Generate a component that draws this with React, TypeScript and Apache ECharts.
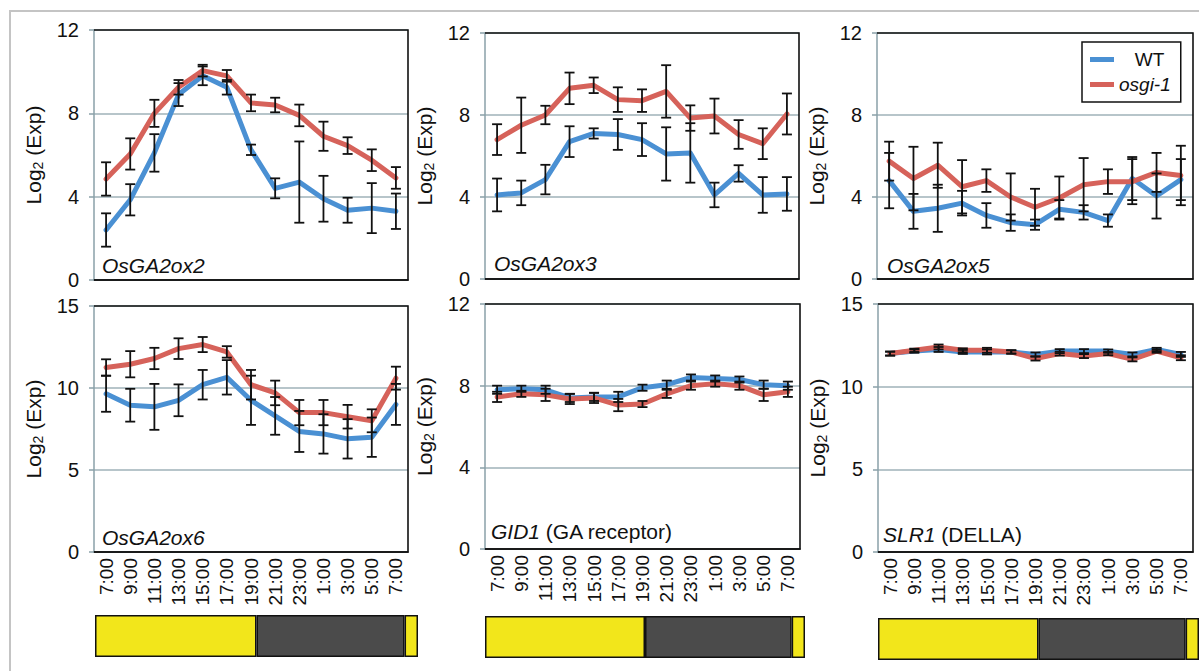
import { useEffect, useRef } from 'react';
import * as echarts from 'echarts';

// ---------- data ----------
const times = ['7:00', '9:00', '11:00', '13:00', '15:00', '17:00', '19:00', '21:00', '23:00', '1:00', '3:00', '5:00', '7:00'];
const genes = ['OsGA2ox2', 'OsGA2ox3', 'OsGA2ox5', 'OsGA2ox6', 'GID1', 'SLR1'];
const geneNotes = ['', '', '', '', '(GA receptor)', '(DELLA)'];
const yMaxes = [12, 12, 12, 15, 12, 15];
const ySteps = [4, 4, 4, 5, 4, 5];
const seriesNames = ['WT', 'osgi-1'];

const ga2ox2Wt = [2.4, 3.85, 6.1, 8.9, 9.8, 9.25, 6.25, 4.4, 4.7, 3.9, 3.35, 3.45, 3.3];
const ga2ox2WtErr = [0.8, 0.75, 0.9, 0.55, 0.45, 0.35, 0.25, 0.48, 1.95, 1.1, 0.6, 1.2, 0.85];
const ga2ox2Osgi = [4.85, 6.05, 8.0, 9.25, 10.05, 9.8, 8.5, 8.4, 7.9, 6.9, 6.45, 5.75, 4.9];
const ga2ox2OsgiErr = [0.8, 0.75, 0.65, 0.35, 0.28, 0.28, 0.4, 0.35, 0.52, 0.7, 0.4, 0.52, 0.52];

const ga2ox3Wt = [4.1, 4.2, 4.85, 6.7, 7.1, 7.05, 6.8, 6.1, 6.15, 4.1, 5.15, 4.1, 4.15];
const ga2ox3WtErr = [0.8, 0.6, 0.72, 0.75, 0.25, 0.75, 0.8, 1.3, 1.45, 0.6, 0.4, 0.87, 0.82];
const ga2ox3Osgi = [6.8, 7.5, 8.0, 9.3, 9.45, 8.75, 8.7, 9.15, 7.85, 7.95, 7.05, 6.6, 8.05];
const ga2ox3OsgiErr = [0.75, 1.35, 0.45, 0.77, 0.38, 0.6, 0.55, 1.28, 0.62, 0.85, 0.7, 0.75, 1.0];

const ga2ox5Wt = [4.8, 3.3, 3.45, 3.7, 3.1, 2.75, 2.65, 3.4, 3.25, 2.85, 4.9, 4.05, 4.85];
const ga2ox5WtErr = [1.35, 0.85, 1.15, 0.6, 0.6, 0.4, 0.25, 0.45, 0.35, 0.3, 1.05, 1.1, 1.0];
const ga2ox5Osgi = [5.75, 4.9, 5.55, 4.5, 4.8, 4.0, 3.5, 3.95, 4.6, 4.75, 4.75, 5.2, 5.05];
const ga2ox5OsgiErr = [0.95, 1.55, 1.1, 1.3, 0.55, 1.15, 0.9, 1.05, 1.3, 0.6, 1.1, 0.95, 1.45];

const ga2ox6Wt = [9.65, 8.95, 8.85, 9.25, 10.2, 10.65, 9.25, 8.3, 7.35, 7.2, 6.9, 7.0, 9.0];
const ga2ox6WtErr = [1.1, 1.0, 1.4, 0.97, 0.9, 1.05, 1.5, 1.15, 1.25, 1.2, 1.2, 1.2, 1.25];
const ga2ox6Osgi = [11.25, 11.45, 11.8, 12.4, 12.65, 12.2, 10.2, 9.7, 8.5, 8.5, 8.25, 8.0, 10.6];
const ga2ox6OsgiErr = [0.5, 0.8, 0.65, 0.63, 0.46, 0.35, 0.9, 0.75, 0.77, 0.77, 0.72, 0.7, 0.7];

const gid1Wt = [7.8, 7.85, 7.8, 7.4, 7.45, 7.45, 7.9, 8.05, 8.4, 8.35, 8.3, 8.05, 8.0];
const gid1WtErr = [0.2, 0.15, 0.2, 0.2, 0.2, 0.25, 0.15, 0.2, 0.15, 0.15, 0.15, 0.2, 0.2];
const gid1Osgi = [7.45, 7.6, 7.55, 7.35, 7.4, 7.05, 7.1, 7.6, 8.0, 8.1, 8.0, 7.55, 7.7];
const gid1OsgiErr = [0.25, 0.15, 0.3, 0.25, 0.25, 0.3, 0.15, 0.2, 0.2, 0.15, 0.2, 0.3, 0.25];

const slr1Wt = [12.0, 12.15, 12.25, 12.1, 12.1, 12.1, 11.95, 12.15, 12.15, 12.15, 11.95, 12.25, 11.95];
const slr1WtErr = [0.12, 0.1, 0.15, 0.12, 0.15, 0.1, 0.12, 0.12, 0.12, 0.1, 0.12, 0.1, 0.15];
const slr1Osgi = [12.0, 12.2, 12.4, 12.2, 12.2, 12.1, 11.7, 12.0, 11.85, 12.0, 11.65, 12.15, 11.75];
const slr1OsgiErr = [0.12, 0.1, 0.15, 0.12, 0.15, 0.1, 0.12, 0.12, 0.12, 0.1, 0.12, 0.1, 0.15];

const wtMeans = [ga2ox2Wt, ga2ox3Wt, ga2ox5Wt, ga2ox6Wt, gid1Wt, slr1Wt];
const wtErrs = [ga2ox2WtErr, ga2ox3WtErr, ga2ox5WtErr, ga2ox6WtErr, gid1WtErr, slr1WtErr];
const osgiMeans = [ga2ox2Osgi, ga2ox3Osgi, ga2ox5Osgi, ga2ox6Osgi, gid1Osgi, slr1Osgi];
const osgiErrs = [ga2ox2OsgiErr, ga2ox3OsgiErr, ga2ox5OsgiErr, ga2ox6OsgiErr, gid1OsgiErr, slr1OsgiErr];

// light / dark period (hours) beneath each column
const photoperiodHours = [12, 11, 1];
const photoperiodPhases = ['light', 'dark', 'light'];

// ---------- layout & style ----------
const FONT = '"Liberation Sans", Arial, Helvetica, sans-serif';
const BLUE = '#4a90d3';
const RED = '#d6625a';
const YELLOW = '#f2e61b';
const DARK = '#4b4b4b';
const GRIDLINE = '#9fb2b8';
const AXISGRAY = '#8aa0a8';

const panelBoxes = [
  { left: 94, top: 30, width: 314, height: 250 },
  { left: 485, top: 33, width: 314, height: 246 },
  { left: 877, top: 33, width: 316, height: 246 },
  { left: 94, top: 306, width: 314, height: 246 },
  { left: 485, top: 304, width: 315, height: 245 },
  { left: 878, top: 304, width: 315, height: 248 },
];
const barBoxes = [
  { left: 95, top: 615, width: 323, height: 42 },
  { left: 485, top: 616, width: 320, height: 42 },
  { left: 878, top: 618, width: 323, height: 42 },
];
const geneLabelPos = [
  [102, 265], [494, 263], [887, 265], [102, 537], [491, 531], [883, 534],
];

function errRender(params: any, api: any) {
  const i = api.value(0);
  const lo = api.coord([i, api.value(1)]);
  const hi = api.coord([i, api.value(2)]);
  const w = 5;
  const st = { stroke: '#111', lineWidth: 1.8 };
  return {
    type: 'group',
    children: [
      { type: 'line', shape: { x1: lo[0], y1: lo[1], x2: hi[0], y2: hi[1] }, style: st },
      { type: 'line', shape: { x1: lo[0] - w, y1: lo[1], x2: lo[0] + w, y2: lo[1] }, style: st },
      { type: 'line', shape: { x1: hi[0] - w, y1: hi[1], x2: hi[0] + w, y2: hi[1] }, style: st },
    ],
  };
}

function buildOption() {
  const grid: any[] = [];
  const xAxis: any[] = [];
  const yAxis: any[] = [];
  const series: any[] = [];
  const graphic: any[] = [];

  panelBoxes.forEach((b, i) => {
    grid.push({ ...b, show: false });
    xAxis.push({
      gridIndex: i,
      type: 'category',
      data: times,
      boundaryGap: true,
      axisLine: { show: true, lineStyle: { color: '#111', width: 1.5 } },
      axisTick: { show: false },
      axisLabel: { show: i >= 3, rotate: 90, interval: 0, fontSize: 19, color: '#111', margin: 6, fontFamily: FONT },
      splitLine: { show: false },
    });
    yAxis.push({
      gridIndex: i,
      type: 'value',
      min: 0,
      max: yMaxes[i],
      interval: ySteps[i],
      axisLine: { show: true, lineStyle: { color: AXISGRAY, width: 1.5 } },
      axisTick: { show: true, length: 5, lineStyle: { color: AXISGRAY, width: 1.5 } },
      splitLine: { show: true, lineStyle: { color: GRIDLINE, width: 1.5 } },
      axisLabel: { fontSize: 20, color: '#111', margin: 15, fontFamily: FONT },
      name: '{a|Log}{s|2}{a| (Exp)}',
      nameLocation: 'middle',
      nameGap: 49,
      nameTextStyle: {
        color: '#111',
        fontFamily: FONT,
        fontSize: 21,
        rich: {
          a: { fontSize: 21, fontFamily: FONT, color: '#111', lineHeight: 24 },
          s: { fontSize: 14, fontFamily: FONT, color: '#111', lineHeight: 8, verticalAlign: 'bottom' },
        },
      },
    });

    const means = [wtMeans[i], osgiMeans[i]];
    const errs = [wtErrs[i], osgiErrs[i]];
    const colors = [BLUE, RED];
    [0, 1].forEach((s) => {
      series.push({
        name: seriesNames[s],
        type: 'line',
        xAxisIndex: i,
        yAxisIndex: i,
        data: means[s],
        symbol: 'none',
        color: colors[s],
        lineStyle: { width: 5, color: colors[s], join: 'round', cap: 'round' },
        z: 2 + s,
      });
    });
    [0, 1].forEach((s) => {
      series.push({
        name: seriesNames[s] + ' error',
        type: 'custom',
        xAxisIndex: i,
        yAxisIndex: i,
        renderItem: errRender,
        encode: { x: 0, y: [1, 2] },
        data: means[s].map((m, k) => [k, m - errs[s][k], m + errs[s][k]]),
        z: 5,
      });
    });

    // black frame on top / right / bottom
    graphic.push({
      type: 'polyline',
      z: 50,
      shape: {
        points: [
          [b.left, b.top],
          [b.left + b.width, b.top],
          [b.left + b.width, b.top + b.height],
          [b.left, b.top + b.height],
        ],
      },
      style: { stroke: '#111', lineWidth: 1.6, fill: 'none' },
    });
    // gene name
    const [gx, gy] = geneLabelPos[i];
    const note = geneNotes[i];
    graphic.push({
      type: 'text',
      x: gx,
      y: gy,
      z: 60,
      style: {
        text: note ? `{i|${genes[i]}}{n| ${note}}` : `{i|${genes[i]}}`,
        verticalAlign: 'middle',
        align: 'left',
        fill: '#111',
        fontSize: 21,
        fontFamily: FONT,
        rich: {
          i: { fontStyle: 'italic', fontSize: 21, fontFamily: FONT, fill: '#111', color: '#111' },
          n: { fontStyle: 'normal', fontSize: 21, fontFamily: FONT, fill: '#111', color: '#111' },
        },
      },
    });
  });

  barBoxes.forEach((b, k) => {
    const gi = panelBoxes.length + k;
    grid.push({ ...b, show: false });
    xAxis.push({ gridIndex: gi, type: 'value', min: 0, max: 24, show: false });
    yAxis.push({ gridIndex: gi, type: 'category', data: ['photoperiod'], show: false });
    photoperiodHours.forEach((h, j) => {
      series.push({
        name: photoperiodPhases[j],
        type: 'bar',
        xAxisIndex: gi,
        yAxisIndex: gi,
        stack: 'pp' + k,
        data: [h],
        barWidth: '100%',
        itemStyle: {
          color: photoperiodPhases[j] === 'light' ? YELLOW : DARK,
          borderColor: '#111',
          borderWidth: 1.5,
        },
      });
    });
  });

  // figure frame
  graphic.push({
    type: 'polyline',
    z: 1,
    shape: { points: [[10, 671], [10, 11], [1199, 11]] },
    style: { stroke: '#c4c4c4', lineWidth: 2, fill: 'none' },
  });

  return {
    animation: false,
    backgroundColor: '#fff',
    textStyle: { fontFamily: FONT },
    grid,
    xAxis,
    yAxis,
    series,
    graphic,
    legend: {
      data: seriesNames,
      left: 1082,
      top: 42,
      orient: 'vertical',
      icon: 'rect',
      itemWidth: 24,
      itemHeight: 5,
      itemGap: 6,
      padding: [8, 10, 8, 8],
      borderColor: '#111',
      borderWidth: 1.5,
      backgroundColor: '#fff',
      selectedMode: false,
      z: 70,
      formatter: (n: string) => (n === 'osgi-1' ? '{i|osgi-1}' : '{n|   WT}'),
      textStyle: {
        fontSize: 19,
        color: '#111',
        fontFamily: FONT,
        rich: {
          i: { fontStyle: 'italic', fontSize: 19, fontFamily: FONT, color: '#111' },
          n: { fontSize: 19, fontFamily: FONT, color: '#111' },
        },
      },
    },
  };
}

export default function App() {
  const ref = useRef<HTMLDivElement>(null);
  useEffect(() => {
    const chart = echarts.init(ref.current!, null, { renderer: 'svg' });
    chart.setOption(buildOption() as any);
    return () => chart.dispose();
  }, []);
  return (
    <div
      ref={ref}
      style={{ position: 'fixed', left: 0, top: 0, width: 1199, height: 671, background: '#fff' }}
    />
  );
}
